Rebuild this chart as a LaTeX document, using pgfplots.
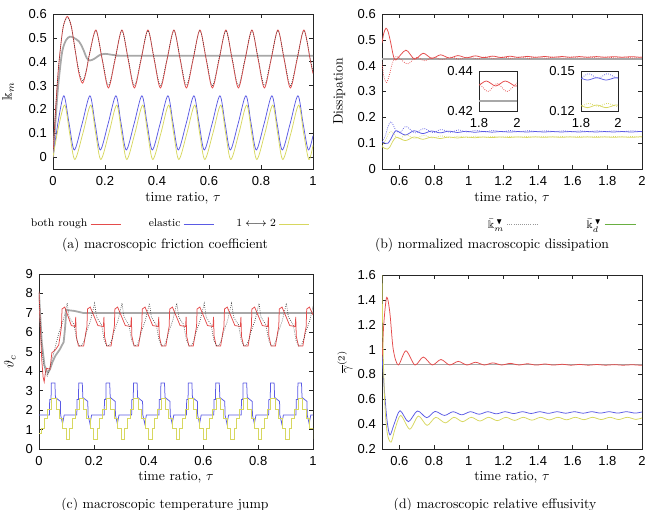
\documentclass[border=0pt]{standalone}
\usepackage{amssymb}
\usepackage{fontspec}
\usepackage{pgfplots}
\pgfplotsset{compat=1.18}
\usepackage{pgfplotstable}
\newfontfamily\tickfont{Liberation Sans}

\definecolor{cred}{RGB}{228,75,75}
\definecolor{cblue}{RGB}{90,90,228}
\definecolor{cyel}{RGB}{215,215,95}
\definecolor{cgrey}{RGB}{168,168,168}
\definecolor{cgreen}{RGB}{105,175,65}

\pgfplotsset{
  panel/.style={
    scale only axis,
    axis line style={black!85, line width=0.5pt},
    tick align=inside,
    xtick pos=both, ytick pos=both,
    major tick length=3pt,
    tick style={black!85, line width=0.4pt},
    tick label style={font=\tickfont\fontsize{9.5}{11}\selectfont},
    xticklabel style={yshift=-2pt},
    yticklabel style={xshift=-1pt},
    /pgf/number format/assume math mode=true,
    every axis plot/.append style={line width=0.55pt},
  },
  inset/.style={
    panel,
    major tick length=0pt,
    xtick pos=bottom, ytick pos=left,
  },
}

% (b) normalised dissipation, one table per series
\pgfplotstableread{
t v
0.5 0.487
0.51 0.525
0.523 0.545
0.535 0.532
0.55 0.49
0.565 0.44
0.58 0.422
0.638 0.46
0.688 0.425
0.738 0.448
0.788 0.428
0.838 0.442
0.888 0.4295
0.938 0.439
0.988 0.4305
1.038 0.438
1.088 0.431
1.138 0.437
1.188 0.4315
1.238 0.4365
1.288 0.432
1.338 0.436
1.388 0.4322
1.438 0.4357
1.488 0.4323
1.538 0.4355
1.588 0.4324
1.638 0.4353
1.688 0.4325
1.738 0.4352
1.788 0.4325
1.838 0.435
1.888 0.4325
1.938 0.435
1.988 0.4325
2.0 0.4327
}\bRedSolid

\pgfplotstableread{
t v
0.5 0.415
0.51 0.36
0.527 0.335
0.545 0.37
0.56 0.41
0.585 0.436
0.646 0.4065
0.696 0.432
0.746 0.419
0.796 0.4325
0.846 0.4235
0.896 0.433
0.946 0.4255
0.996 0.4333
1.046 0.4268
1.096 0.4335
1.146 0.4277
1.196 0.4336
1.246 0.4283
1.296 0.4337
1.346 0.4287
1.396 0.4337
1.446 0.429
1.496 0.4338
1.546 0.4292
1.596 0.4338
1.646 0.4294
1.696 0.4338
1.746 0.4296
1.796 0.4338
1.846 0.4297
1.896 0.4338
1.946 0.4297
1.996 0.4338
2.0 0.4338
}\bRedDot

\pgfplotstableread{
t v
0.5 0.106
0.52 0.099
0.535 0.1
0.55 0.115
0.57 0.14
0.585 0.148
0.635 0.1316
0.685 0.148
0.735 0.137
0.785 0.147
0.835 0.14
0.885 0.1465
0.935 0.1415
0.985 0.146
1.035 0.142
1.085 0.1455
1.135 0.1425
1.185 0.1452
1.235 0.143
1.285 0.145
1.335 0.1432
1.385 0.145
1.435 0.1432
1.485 0.145
1.535 0.1432
1.585 0.145
1.635 0.1432
1.685 0.145
1.735 0.1432
1.785 0.145
1.835 0.1432
1.885 0.145
1.935 0.1432
1.985 0.145
2.0 0.1448
}\bBlueSolid

\pgfplotstableread{
t v
0.5 0.105
0.52 0.13
0.535 0.165
0.55 0.183
0.565 0.17
0.58 0.15
0.604 0.14
0.638 0.165
0.69 0.14
0.742 0.157
0.792 0.141
0.842 0.153
0.892 0.142
0.942 0.151
0.992 0.143
1.042 0.15
1.092 0.1435
1.142 0.1495
1.192 0.144
1.242 0.149
1.292 0.1443
1.342 0.1485
1.392 0.1445
1.442 0.148
1.492 0.1445
1.542 0.148
1.592 0.1445
1.642 0.148
1.692 0.1445
1.742 0.148
1.792 0.1445
1.842 0.148
1.892 0.1445
1.942 0.148
1.992 0.1445
2.0 0.1448
}\bBlueDot

\pgfplotstableread{
t v
0.5 0.087
0.515 0.08
0.53 0.077
0.545 0.085
0.565 0.11
0.585 0.123
0.635 0.11
0.685 0.124
0.735 0.115
0.785 0.1235
0.835 0.118
0.885 0.1238
0.935 0.12
0.985 0.124
1.035 0.121
1.085 0.124
1.135 0.1215
1.185 0.1242
1.235 0.122
1.285 0.1244
1.335 0.1222
1.385 0.1245
1.435 0.1225
1.485 0.1245
1.535 0.1225
1.585 0.1245
1.635 0.1225
1.685 0.1245
1.735 0.1225
1.785 0.1245
1.835 0.1225
1.885 0.1245
1.935 0.1225
1.985 0.1245
2.0 0.1243
}\bYelSolid

\pgfplotstableread{
t v
0.5 0.09
0.52 0.11
0.535 0.135
0.55 0.145
0.565 0.138
0.58 0.125
0.604 0.117
0.638 0.132
0.69 0.118
0.742 0.13
0.792 0.12
0.842 0.128
0.892 0.121
0.942 0.127
0.992 0.122
1.042 0.1265
1.092 0.1225
1.142 0.126
1.192 0.123
1.242 0.1258
1.292 0.1232
1.342 0.1257
1.392 0.1235
1.442 0.1257
1.492 0.1235
1.542 0.1257
1.592 0.1235
1.642 0.1257
1.692 0.1235
1.742 0.1257
1.792 0.1235
1.842 0.1257
1.892 0.1235
1.942 0.1257
1.992 0.1235
2.0 0.1237
}\bYelDot

\begin{document}
\begin{tikzpicture}
\useasboundingbox (0,0) rectangle (471.58pt,-372.3pt);

% ---------------- (a) friction coefficient ----------------
\begin{axis}[panel,
  at={(38.69pt,-123.37pt)}, anchor=south west,
  width=189.8pt, height=113.15pt,
  xmin=0, xmax=1, ymin=-0.05, ymax=0.6,
  xtick={0,0.2,0.4,0.6,0.8,1},
  ytick={0,0.1,0.2,0.3,0.4,0.5,0.6},
  xlabel={time ratio, $\tau$},
  ylabel={$\Bbbk_m$},
  xlabel style={at={(axis description cs:0.5,-0.187)}, anchor=center},
  ylabel style={at={(axis description cs:-0.173,0.5)}, anchor=center},
  legend columns=3, legend plot pos=right,
  legend image code/.code={\draw[#1] (0cm,0cm) -- (0.78cm,0cm);},
  legend style={at={(0.446,-0.355)}, anchor=center, draw=none, fill=none,
    font=\footnotesize},
]
\addplot[cgrey, line width=1.3pt, smooth, forget plot] coordinates {
(0,0) (0.01,0.16) (0.02,0.3) (0.035,0.44) (0.05,0.49) (0.065,0.505)
(0.08,0.5) (0.1,0.485) (0.115,0.455) (0.13,0.415) (0.142,0.405)
(0.16,0.413) (0.18,0.428) (0.2,0.433) (0.22,0.43) (0.25,0.426)
(0.3,0.425) (1,0.425)};
\addplot[cred, smooth, forget plot] coordinates {
(0,0) (0.01,0.2) (0.02,0.36) (0.03,0.47) (0.04,0.55) (0.055,0.59)
(0.07,0.55) (0.085,0.45) (0.1,0.35) (0.114,0.31) (0.128,0.36) (0.14,0.43)
(0.165,0.533) (0.189,0.41) (0.213,0.29) (0.239,0.41)
(0.265,0.533) (0.289,0.41) (0.313,0.29) (0.339,0.41)
(0.365,0.533) (0.389,0.41) (0.413,0.29) (0.439,0.41)
(0.465,0.533) (0.489,0.41) (0.513,0.29) (0.539,0.41)
(0.565,0.533) (0.589,0.41) (0.613,0.29) (0.639,0.41)
(0.665,0.533) (0.689,0.41) (0.713,0.29) (0.739,0.41)
(0.765,0.533) (0.789,0.41) (0.813,0.29) (0.839,0.41)
(0.865,0.533) (0.889,0.41) (0.913,0.29) (0.939,0.41)
(0.965,0.533) (0.989,0.41) (1,0.35)};
\addplot[black!75, densely dotted, line width=0.45pt, smooth, forget plot] coordinates {
(0,0) (0.01,0.2) (0.02,0.36) (0.03,0.47) (0.04,0.55) (0.055,0.585)
(0.07,0.55) (0.085,0.45) (0.1,0.36) (0.114,0.32) (0.128,0.365) (0.14,0.43)
(0.165,0.53) (0.189,0.415) (0.213,0.3) (0.239,0.415)
(0.265,0.53) (0.289,0.415) (0.313,0.3) (0.339,0.415)
(0.365,0.53) (0.389,0.415) (0.413,0.3) (0.439,0.415)
(0.465,0.53) (0.489,0.415) (0.513,0.3) (0.539,0.415)
(0.565,0.53) (0.589,0.415) (0.613,0.3) (0.639,0.415)
(0.665,0.53) (0.689,0.415) (0.713,0.3) (0.739,0.415)
(0.765,0.53) (0.789,0.415) (0.813,0.3) (0.839,0.415)
(0.865,0.53) (0.889,0.415) (0.913,0.3) (0.939,0.415)
(0.965,0.53) (0.989,0.415) (1,0.355)};
\addplot[cblue, smooth, forget plot] coordinates {
(0,0) (0.02,0.15) (0.042,0.257) (0.062,0.14) (0.082,0.03) (0.112,0.14)
(0.142,0.257) (0.162,0.14) (0.182,0.03) (0.212,0.14)
(0.242,0.257) (0.262,0.14) (0.282,0.03) (0.312,0.14)
(0.342,0.257) (0.362,0.14) (0.382,0.03) (0.412,0.14)
(0.442,0.257) (0.462,0.14) (0.482,0.03) (0.512,0.14)
(0.542,0.257) (0.562,0.14) (0.582,0.03) (0.612,0.14)
(0.642,0.257) (0.662,0.14) (0.682,0.03) (0.712,0.14)
(0.742,0.257) (0.762,0.14) (0.782,0.03) (0.812,0.14)
(0.842,0.257) (0.862,0.14) (0.882,0.03) (0.912,0.14)
(0.942,0.257) (0.962,0.14) (0.982,0.03) (1,0.09)};
\addplot[cyel, smooth, forget plot] coordinates {
(0,0) (0.02,0.12) (0.045,0.218) (0.064,0.1) (0.084,-0.01) (0.115,0.1)
(0.145,0.218) (0.164,0.1) (0.184,-0.01) (0.215,0.1)
(0.245,0.218) (0.264,0.1) (0.284,-0.01) (0.315,0.1)
(0.345,0.218) (0.364,0.1) (0.384,-0.01) (0.415,0.1)
(0.445,0.218) (0.464,0.1) (0.484,-0.01) (0.515,0.1)
(0.545,0.218) (0.564,0.1) (0.584,-0.01) (0.615,0.1)
(0.645,0.218) (0.664,0.1) (0.684,-0.01) (0.715,0.1)
(0.745,0.218) (0.764,0.1) (0.784,-0.01) (0.815,0.1)
(0.845,0.218) (0.864,0.1) (0.884,-0.01) (0.915,0.1)
(0.945,0.218) (0.964,0.1) (0.984,-0.01) (1,0.05)};
\addlegendimage{cred, line width=0.6pt}
\addlegendentry{both rough}
\addlegendimage{cblue, line width=0.6pt}
\addlegendentry{\hspace*{18pt}elastic}
\addlegendimage{cyel, line width=0.6pt}
\addlegendentry{\hspace*{14pt}$1\longleftrightarrow2$}
\end{axis}

% ---------------- (b) normalised dissipation ----------------
\begin{axis}[panel,
  at={(278.86pt,-123.37pt)}, anchor=south west,
  width=189.8pt, height=113.15pt,
  xmin=0.5, xmax=2, ymin=0, ymax=0.6,
  xtick={0.6,0.8,1,1.2,1.4,1.6,1.8,2},
  ytick={0,0.1,0.2,0.3,0.4,0.5,0.6},
  xlabel={time ratio, $\tau$},
  ylabel={Dissipation},
  xlabel style={at={(axis description cs:0.5,-0.187)}, anchor=center},
  ylabel style={at={(axis description cs:-0.164,0.5)}, anchor=center},
  legend columns=2, legend plot pos=right,
  legend image code/.code={\draw[#1] (0cm,0cm) -- (0.8cm,0cm);},
  legend style={at={(0.688,-0.36)}, anchor=center, draw=none, fill=none,
    font=\footnotesize},
]
\addplot[cgrey, line width=1.3pt, forget plot] coordinates {(0.5,0.425) (2,0.425)};
\addplot[cred, smooth, forget plot] table[x=t,y=v] {\bRedSolid};
\addplot[cred, densely dotted, smooth, forget plot] table[x=t,y=v] {\bRedDot};
\addplot[cblue, smooth, forget plot] table[x=t,y=v] {\bBlueSolid};
\addplot[cblue, densely dotted, smooth, forget plot] table[x=t,y=v] {\bBlueDot};
\addplot[cyel, smooth, forget plot] table[x=t,y=v] {\bYelSolid};
\addplot[cyel, densely dotted, smooth, forget plot] table[x=t,y=v] {\bYelDot};
\addlegendimage{gray!80, densely dotted, line width=0.6pt}
\addlegendentry{$\bar{\Bbbk}^{\,\blacktriangledown}_m$}
\addlegendimage{cgreen, line width=0.6pt}
\addlegendentry{\hspace*{33pt}$\bar{\Bbbk}^{\,\blacktriangledown}_d$}
\end{axis}

% inset: top branch near tau = 2
\begin{axis}[inset,
  at={(349.67pt,-81.03pt)}, anchor=south west,
  width=27.74pt, height=29.2pt,
  xmin=1.8, xmax=2, ymin=0.42, ymax=0.44,
  xtick={1.8,2}, ytick={0.42,0.44},
]
\addplot[cgrey, line width=1.0pt] coordinates {(1.8,0.425) (2,0.425)};
\addplot[cred, smooth] table[x=t,y=v] {\bRedSolid};
\addplot[cred, densely dotted, smooth] table[x=t,y=v] {\bRedDot};
\end{axis}

% inset: lower branches near tau = 2
\begin{axis}[inset,
  at={(424.13pt,-81.03pt)}, anchor=south west,
  width=27.01pt, height=29.2pt,
  xmin=1.8, xmax=2, ymin=0.12, ymax=0.15,
  xtick={1.8,2}, ytick={0.12,0.15},
]
\addplot[cblue, smooth] table[x=t,y=v] {\bBlueSolid};
\addplot[cblue, densely dotted, smooth] table[x=t,y=v] {\bBlueDot};
\addplot[cyel, smooth] table[x=t,y=v] {\bYelSolid};
\addplot[cyel, densely dotted, smooth] table[x=t,y=v] {\bYelDot};
\end{axis}

% ---------------- (c) temperature jump ----------------
\begin{axis}[panel,
  at={(28.47pt,-327.77pt)}, anchor=south west,
  width=200.02pt, height=127.75pt,
  xmin=0, xmax=1, ymin=0, ymax=9,
  xtick={0,0.2,0.4,0.6,0.8,1},
  ytick={0,1,2,3,4,5,6,7,8,9},
  xlabel={time ratio, $\tau$},
  ylabel={$\vartheta_c$},
  xlabel style={at={(axis description cs:0.5,-0.164)}, anchor=center},
  ylabel style={at={(axis description cs:-0.106,0.5)}, anchor=center},
]
\addplot[cgrey, line width=1.3pt] coordinates {
(0,8.0) (0.01,5.5) (0.02,4.3) (0.032,3.9) (0.04,4.1) (0.05,4.5) (0.06,4.8)
(0.075,5.1) (0.09,5.5) (0.095,6.2) (0.1,7.15) (0.13,7.1) (0.16,7.0) (1,7.0)};
\addplot[cred] coordinates {
(0,8.1) (0.004,6.6) (0.01,4.6) (0.015,3.7) (0.019,3.45) (0.024,4.0)
(0.028,4.15) (0.04,4.1) (0.047,4.95) (0.06,5.1) (0.072,5.35) (0.078,5.9)
(0.082,6.3) (0.084,7.2) (0.094,7.3) (0.118,6.35) (0.132,6.3) (0.134,6.8)
(0.136,5.8) (0.144,5.3) (0.163,5.3) (0.171,6.0)
(0.175,6.3) (0.177,7.2) (0.187,7.3) (0.215,6.35) (0.235,6.3) (0.237,6.8) (0.239,5.8) (0.247,5.3) (0.263,5.3) (0.271,6.0)
(0.275,6.3) (0.277,7.2) (0.287,7.3) (0.315,6.35) (0.335,6.3) (0.337,6.8) (0.339,5.8) (0.347,5.3) (0.363,5.3) (0.371,6.0)
(0.375,6.3) (0.377,7.2) (0.387,7.3) (0.415,6.35) (0.435,6.3) (0.437,6.8) (0.439,5.8) (0.447,5.3) (0.463,5.3) (0.471,6.0)
(0.475,6.3) (0.477,7.2) (0.487,7.3) (0.515,6.35) (0.535,6.3) (0.537,6.8) (0.539,5.8) (0.547,5.3) (0.563,5.3) (0.571,6.0)
(0.575,6.3) (0.577,7.2) (0.587,7.3) (0.615,6.35) (0.635,6.3) (0.637,6.8) (0.639,5.8) (0.647,5.3) (0.663,5.3) (0.671,6.0)
(0.675,6.3) (0.677,7.2) (0.687,7.3) (0.715,6.35) (0.735,6.3) (0.737,6.8) (0.739,5.8) (0.747,5.3) (0.763,5.3) (0.771,6.0)
(0.775,6.3) (0.777,7.2) (0.787,7.3) (0.815,6.35) (0.835,6.3) (0.837,6.8) (0.839,5.8) (0.847,5.3) (0.863,5.3) (0.871,6.0)
(0.875,6.3) (0.877,7.2) (0.887,7.3) (0.915,6.35) (0.935,6.3) (0.937,6.8) (0.939,5.8) (0.947,5.3) (0.963,5.3) (0.971,6.0)
(0.975,6.3) (0.977,7.2) (0.987,7.3) (1,6.9)};
\addplot[black!75, densely dotted, line width=0.45pt] coordinates {
(0,8.0) (0.008,5.6) (0.016,4.4) (0.025,3.85) (0.03,3.75) (0.04,4.2) (0.055,5.0)
(0.073,6.0) (0.088,6.6) (0.098,7.2) (0.103,7.5) (0.11,6.8) (0.118,6.6) (0.128,6.4) (0.138,5.6) (0.148,5.3) (0.158,5.35) (0.168,5.7)
(0.173,6.0) (0.188,6.6) (0.198,7.2) (0.203,7.5) (0.21,6.8) (0.218,6.6) (0.228,6.4) (0.238,5.6) (0.248,5.3) (0.258,5.35) (0.268,5.7)
(0.273,6.0) (0.288,6.6) (0.298,7.2) (0.303,7.5) (0.31,6.8) (0.318,6.6) (0.328,6.4) (0.338,5.6) (0.348,5.3) (0.358,5.35) (0.368,5.7)
(0.373,6.0) (0.388,6.6) (0.398,7.2) (0.403,7.5) (0.41,6.8) (0.418,6.6) (0.428,6.4) (0.438,5.6) (0.448,5.3) (0.458,5.35) (0.468,5.7)
(0.473,6.0) (0.488,6.6) (0.498,7.2) (0.503,7.5) (0.51,6.8) (0.518,6.6) (0.528,6.4) (0.538,5.6) (0.548,5.3) (0.558,5.35) (0.568,5.7)
(0.573,6.0) (0.588,6.6) (0.598,7.2) (0.603,7.5) (0.61,6.8) (0.618,6.6) (0.628,6.4) (0.638,5.6) (0.648,5.3) (0.658,5.35) (0.668,5.7)
(0.673,6.0) (0.688,6.6) (0.698,7.2) (0.703,7.5) (0.71,6.8) (0.718,6.6) (0.728,6.4) (0.738,5.6) (0.748,5.3) (0.758,5.35) (0.768,5.7)
(0.773,6.0) (0.788,6.6) (0.798,7.2) (0.803,7.5) (0.81,6.8) (0.818,6.6) (0.828,6.4) (0.838,5.6) (0.848,5.3) (0.858,5.35) (0.868,5.7)
(0.873,6.0) (0.888,6.6) (0.898,7.2) (0.903,7.5) (0.91,6.8) (0.918,6.6) (0.928,6.4) (0.938,5.6) (0.948,5.3) (0.958,5.35) (0.968,5.7)
(0.973,6.0) (0.988,6.6) (0.998,7.2) (1,7.35)};
\addplot[cblue] coordinates {
(0,1.75)
(0.038,1.75) (0.039,2.55) (0.044,2.55) (0.045,3.4) (0.058,3.4) (0.06,2.65) (0.078,2.45) (0.079,1.75) (0.086,1.3) (0.092,1.75)
(0.138,1.75) (0.139,2.55) (0.144,2.55) (0.145,3.4) (0.158,3.4) (0.16,2.65) (0.178,2.45) (0.179,1.75) (0.186,1.3) (0.192,1.75)
(0.238,1.75) (0.239,2.55) (0.244,2.55) (0.245,3.4) (0.258,3.4) (0.26,2.65) (0.278,2.45) (0.279,1.75) (0.286,1.3) (0.292,1.75)
(0.338,1.75) (0.339,2.55) (0.344,2.55) (0.345,3.4) (0.358,3.4) (0.36,2.65) (0.378,2.45) (0.379,1.75) (0.386,1.3) (0.392,1.75)
(0.438,1.75) (0.439,2.55) (0.444,2.55) (0.445,3.4) (0.458,3.4) (0.46,2.65) (0.478,2.45) (0.479,1.75) (0.486,1.3) (0.492,1.75)
(0.538,1.75) (0.539,2.55) (0.544,2.55) (0.545,3.4) (0.558,3.4) (0.56,2.65) (0.578,2.45) (0.579,1.75) (0.586,1.3) (0.592,1.75)
(0.638,1.75) (0.639,2.55) (0.644,2.55) (0.645,3.4) (0.658,3.4) (0.66,2.65) (0.678,2.45) (0.679,1.75) (0.686,1.3) (0.692,1.75)
(0.738,1.75) (0.739,2.55) (0.744,2.55) (0.745,3.4) (0.758,3.4) (0.76,2.65) (0.778,2.45) (0.779,1.75) (0.786,1.3) (0.792,1.75)
(0.838,1.75) (0.839,2.55) (0.844,2.55) (0.845,3.4) (0.858,3.4) (0.86,2.65) (0.878,2.45) (0.879,1.75) (0.886,1.3) (0.892,1.75)
(0.938,1.75) (0.939,2.55) (0.944,2.55) (0.945,3.4) (0.958,3.4) (0.96,2.65) (0.978,2.45) (0.979,1.75) (0.986,1.3) (0.992,1.75)
(1,1.75)};
\addplot[cyel, const plot] coordinates {
(0,0.8) (0.008,1.05) (0.02,1.55) (0.032,2.05)
(0.046,2.6) (0.062,2.05) (0.074,1.55) (0.087,1.05) (0.1,0.5) (0.112,1.05) (0.122,1.55) (0.133,2.05)
(0.146,2.6) (0.162,2.05) (0.174,1.55) (0.187,1.05) (0.2,0.5) (0.212,1.05) (0.222,1.55) (0.233,2.05)
(0.246,2.6) (0.262,2.05) (0.274,1.55) (0.287,1.05) (0.3,0.5) (0.312,1.05) (0.322,1.55) (0.333,2.05)
(0.346,2.6) (0.362,2.05) (0.374,1.55) (0.387,1.05) (0.4,0.5) (0.412,1.05) (0.422,1.55) (0.433,2.05)
(0.446,2.6) (0.462,2.05) (0.474,1.55) (0.487,1.05) (0.5,0.5) (0.512,1.05) (0.522,1.55) (0.533,2.05)
(0.546,2.6) (0.562,2.05) (0.574,1.55) (0.587,1.05) (0.6,0.5) (0.612,1.05) (0.622,1.55) (0.633,2.05)
(0.646,2.6) (0.662,2.05) (0.674,1.55) (0.687,1.05) (0.7,0.5) (0.712,1.05) (0.722,1.55) (0.733,2.05)
(0.746,2.6) (0.762,2.05) (0.774,1.55) (0.787,1.05) (0.8,0.5) (0.812,1.05) (0.822,1.55) (0.833,2.05)
(0.846,2.6) (0.862,2.05) (0.874,1.55) (0.887,1.05) (0.9,0.5) (0.912,1.05) (0.922,1.55) (0.933,2.05)
(0.946,2.6) (0.962,2.05) (0.974,1.55) (0.987,1.05) (1,0.5)};
\end{axis}

% ---------------- (d) relative effusivity ----------------
\begin{axis}[panel,
  at={(278.86pt,-327.77pt)}, anchor=south west,
  width=189.8pt, height=127.02pt,
  xmin=0.5, xmax=2, ymin=0.2, ymax=1.6,
  xtick={0.6,0.8,1,1.2,1.4,1.6,1.8,2},
  ytick={0.2,0.4,0.6,0.8,1,1.2,1.4,1.6},
  xlabel={time ratio, $\tau$},
  ylabel={$\overline{\gamma}^{(2)}$},
  xlabel style={at={(axis description cs:0.5,-0.165)}, anchor=center},
  ylabel style={at={(axis description cs:-0.142,0.5)}, anchor=center},
]
\addplot[cgrey, line width=1.0pt] coordinates {(0.5,0.88) (2,0.88)};
\addplot[cred, smooth] coordinates {
(0.5,0.88) (0.51,1.2) (0.527,1.42) (0.545,1.3) (0.565,1.0) (0.594,0.876)
(0.638,0.99) (0.69,0.876) (0.738,0.94) (0.79,0.876) (0.84,0.92) (0.89,0.876)
(0.94,0.905) (0.99,0.876) (1.04,0.898) (1.09,0.876) (1.14,0.893) (1.19,0.876)
(1.24,0.889) (1.29,0.876) (1.34,0.886) (1.39,0.875) (1.44,0.884) (1.49,0.875)
(1.54,0.882) (1.59,0.874) (1.64,0.881) (1.69,0.874) (1.74,0.88) (1.79,0.874)
(1.84,0.879) (1.89,0.874) (1.94,0.878) (1.99,0.874) (2,0.875)};
\addplot[cblue, smooth] coordinates {
(0.5,0.95) (0.515,0.65) (0.53,0.42) (0.546,0.313) (0.57,0.4) (0.604,0.508)
(0.652,0.42) (0.704,0.506) (0.758,0.452) (0.806,0.502) (0.86,0.47) (0.91,0.5)
(0.96,0.475) (1.01,0.5) (1.06,0.48) (1.11,0.5) (1.16,0.483) (1.21,0.5)
(1.26,0.485) (1.31,0.5) (1.36,0.486) (1.41,0.5) (1.46,0.487) (1.51,0.5)
(1.56,0.488) (1.61,0.5) (1.66,0.488) (1.71,0.5) (1.76,0.489) (1.81,0.5)
(1.86,0.489) (1.91,0.5) (1.96,0.489) (2,0.498)};
\addplot[cyel, smooth] coordinates {
(0.5,1.62) (0.505,1.1) (0.515,0.6) (0.53,0.33) (0.552,0.255) (0.575,0.36)
(0.608,0.47) (0.66,0.36) (0.71,0.465) (0.76,0.39) (0.81,0.455) (0.865,0.41)
(0.915,0.455) (0.965,0.42) (1.015,0.455) (1.065,0.425) (1.115,0.455) (1.165,0.428)
(1.215,0.455) (1.265,0.43) (1.315,0.455) (1.365,0.432) (1.415,0.455) (1.465,0.434)
(1.515,0.455) (1.565,0.435) (1.615,0.455) (1.665,0.436) (1.715,0.455) (1.765,0.437)
(1.815,0.455) (1.865,0.437) (1.915,0.455) (1.965,0.438) (2,0.45)};
\end{axis}

% sub-captions
\node[font=\normalsize] at (120.45pt,-178.85pt) {(a) macroscopic friction coefficient};
\node[font=\normalsize] at (359.16pt,-178.85pt) {(b) normalized macroscopic dissipation};
\node[font=\normalsize] at (120.45pt,-368.65pt) {(c) macroscopic temperature jump};
\node[font=\normalsize] at (361.35pt,-368.65pt) {(d) macroscopic relative effusivity};
\end{tikzpicture}
\end{document}
